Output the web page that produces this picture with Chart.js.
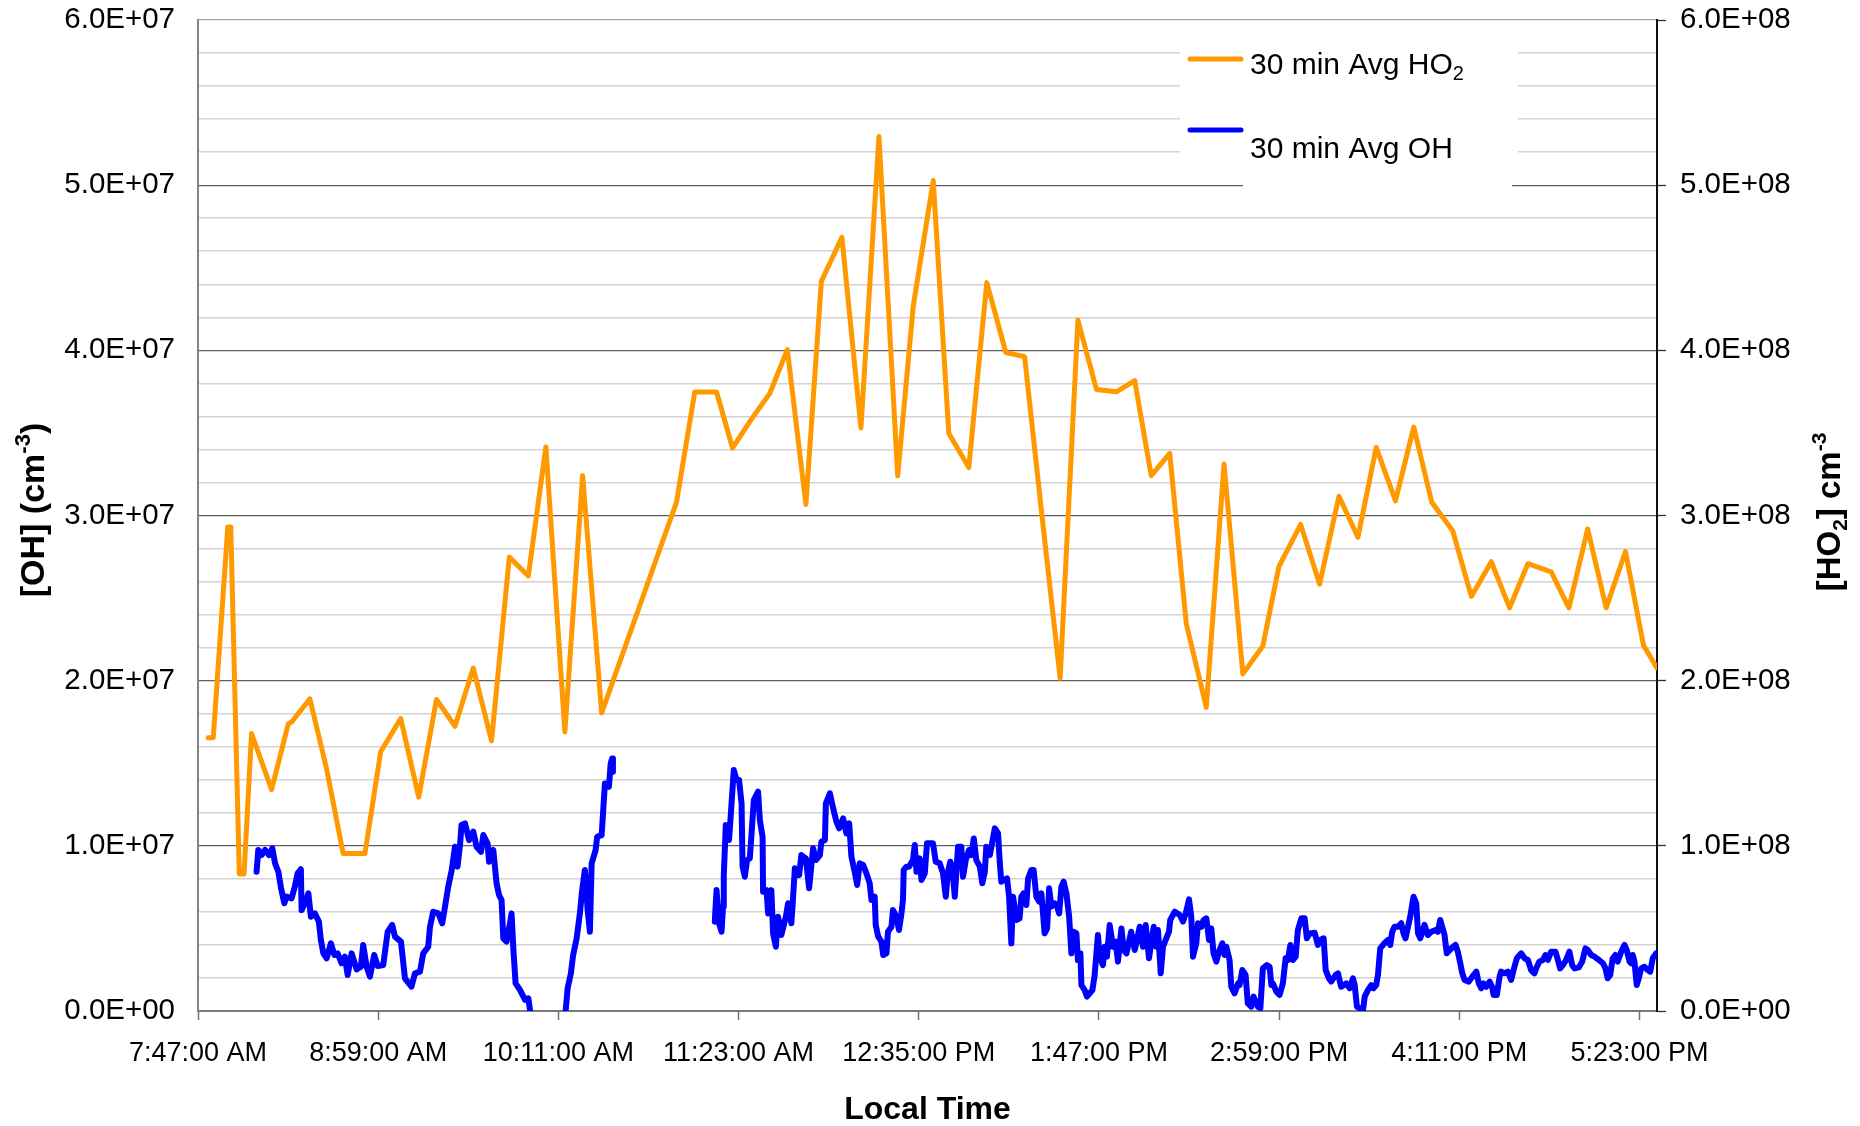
<!DOCTYPE html>
<html><head><meta charset="utf-8">
<script src="https://cdn.jsdelivr.net/npm/chart.js@4.4.1/dist/chart.umd.min.js"></script>
<style>html,body{margin:0;padding:0;background:#fff;}canvas{display:block;}</style>
</head><body>
<canvas id="c" width="1860" height="1126"></canvas>
<script>
// ---- x axis (minutes after midnight) ----
const xTickMinutes = [467, 539, 611, 683, 755, 827, 899, 971, 1043];
const xTickLabels = ['7:47:00 AM', '8:59:00 AM', '10:11:00 AM', '11:23:00 AM', '12:35:00 PM', '1:47:00 PM', '2:59:00 PM', '4:11:00 PM', '5:23:00 PM'];
const xRange = [467, 1050];

// ---- series ----
const seriesLabels = ['30 min Avg HO₂', '30 min Avg OH'];
const axisTitles = { x: 'Local Time', y: '[OH] (cm⁻³)', y2: '[HO₂] cm⁻³' };

const ho2Minutes = [471.1,473.1,478.9,480.1,483.5,485.4,488.4,496.4,503.1,504.4,511.7,518.4,525.0,533.7,540.0,548.0,555.2,562.3,569.7,577.0,584.3,591.4,599.0,606.0,613.6,620.7,628.3,658.2,665.5,674.2,680.6,687.8,695.5,702.5,709.9,716.1,724.3,731.9,739.1,746.6,752.8,760.8,767.0,775.0,782.2,789.8,797.3,804.0,811.5,818.6,826.0,834.0,841.3,847.9,855.3,861.9,869.9,877.0,884.5,892.5,898.9,907.6,915.2,922.9,930.5,937.8,945.5,952.8,960.0,968.4,975.8,983.8,991.1,998.4,1007.7,1014.8,1022.3,1029.7,1037.4,1044.6,1049.9];
const ho2Values = [1.655e8,1.655e8,2.93e8,2.93e8,0.83e8,0.83e8,1.68e8,1.34e8,1.74e8,1.75e8,1.89e8,1.465e8,0.953e8,0.953e8,1.57e8,1.77e8,1.295e8,1.886e8,1.724e8,2.076e8,1.636e8,2.748e8,2.634e8,3.415e8,1.69e8,3.242e8,1.805e8,3.08e8,3.748e8,3.748e8,3.409e8,3.576e8,3.74e8,4.004e8,3.067e8,4.418e8,4.684e8,3.53e8,5.294e8,3.24e8,4.267e8,5.028e8,3.498e8,3.29e8,4.41e8,3.987e8,3.962e8,3.031e8,2.015e8,4.183e8,3.763e8,3.749e8,3.817e8,3.241e8,3.376e8,2.346e8,1.838e8,3.312e8,2.041e8,2.21e8,2.69e8,2.946e8,2.584e8,3.117e8,2.868e8,3.412e8,3.088e8,3.535e8,3.08e8,2.906e8,2.51e8,2.72e8,2.441e8,2.708e8,2.659e8,2.441e8,2.918e8,2.441e8,2.782e8,2.214e8,2.078e8];

const ohMinutes = [490.4,491.1,492.4,493.8,495.4,496.7,497.8,499.1,500.2,501.5,502.4,504.4,505.7,506.8,508.1,508.4,509.7,511.1,512.1,513.7,515.3,516.1,517.1,518.4,520.1,521.5,522.8,524.4,525.7,526.8,528.4,530.4,532.1,533.0,534.4,535.7,537.4,538.8,541.0,542.8,544.6,545.7,548.1,549.7,552.3,553.7,555.7,557.0,559.0,559.7,561.0,563.0,564.6,565.7,567.0,568.4,569.7,570.7,571.7,572.3,573.7,575.3,577.0,578.3,580.1,581.0,582.7,583.3,585.0,586.3,587.3,588.3,589.0,590.3,591.3,592.3,593.0,593.9,595.7,597.7,599.0,599.7,
606,
613.9,614.7,616.0,616.9,618.3,619.6,620.5,621.6,622.7,623.6,624.3,625.9,626.5,628.3,629.6,631.2,631.9,632.5,632.8,
653,
673.5,674.2,675.2,676.2,676.8,677.1,677.9,679.2,679.8,680.6,681.1,682.2,683.2,684.2,684.6,685.5,686.4,687.5,688.2,689.1,690.8,691.5,692.6,692.8,694.2,694.8,696.1,696.8,697.9,698.8,700.1,701.9,702.8,704.1,704.8,705.5,707.2,708.1,709.9,711.2,712.1,712.8,713.9,715.5,716.1,717.5,717.9,719.5,720.5,722.1,723.2,724.8,726.1,727.2,728.1,729.4,730.4,731.4,732.8,734.1,735.4,736.1,737.4,737.8,738.8,740.1,740.8,742.1,742.7,744.1,744.7,746.1,747.1,748.1,748.7,749.0,750.1,751.1,752.7,753.4,754.1,755.4,756.1,757.4,758.3,759.4,760.7,761.8,763.4,764.7,765.8,766.7,767.6,768.4,769.4,770.7,772.0,772.7,773.8,775.1,776.0,777.0,778.0,779.4,780.4,781.4,782.0,783.4,784.4,785.4,786.7,787.4,788.0,790.3,791.1,792.0,792.7,794.0,795.3,796.0,796.9,798.0,798.7,800.0,800.9,802.0,803.1,804.0,805.3,806.3,807.1,808.0,809.3,810.3,811.1,812.0,812.9,814.0,815.1,816.0,816.9,818.0,818.6,819.6,820.0,821.3,822.2,823.3,824.4,825.3,826.6,827.3,828.6,829.3,830.2,831.3,832.6,833.7,834.6,836.0,836.9,838.0,839.0,
839.9,841.3,842.2,843.3,844.6,845.7,847.0,847.9,848.9,849.9,850.6,851.7,852.6,853.9,855.0,855.5,857.3,859.3,860.6,861.7,863.0,863.9,864.6,865.9,866.6,867.9,868.8,869.9,871.0,871.9,872.8,873.9,875.2,876.3,877.2,877.9,879.2,879.9,881.2,882.6,883.2,884.3,885.6,886.5,887.9,888.8,890.5,891.5,892.5,894.1,895.2,895.9,896.5,897.9,899.2,900.5,901.6,902.5,903.5,904.5,905.6,906.5,907.9,909.2,910.1,911.2,913.2,914.5,915.4,916.8,917.6,918.9,919.8,921.6,922.5,923.8,925.8,927.2,928.5,929.2,930.1,931.2,932.5,933.2,934.5,935.8,936.7,937.8,938.5,939.4,941.1,942.5,943.4,944.2,945.1,946.5,947.8,948.7,949.5,950.5,951.4,952.7,953.8,954.5,955.4,957.1,958.4,959.8,961.5,962.4,963.4,
965.1,966.0,967.8,969.5,970.4,971.4,972.2,973.1,974.8,976.2,977.8,978.8,979.8,980.7,981.8,983.1,984.1,984.7,986.0,987.1,987.7,989.1,990.4,991.7,992.7,994.0,995.7,997.1,998.4,999.7,1001.0,1002.0,1003.0,1004.4,1005.4,1006.4,1007.7,1009.4,1010.4,1011.3,1012.4,1013.7,1015.0,1016.1,1017.0,1018.8,1020.1,1021.4,1022.4,1023.7,1025.0,1026.8,1028.4,1029.4,1030.3,1031.3,1032.3,1033.4,1034.3,1035.7,1037.0,1037.9,1039.0,1039.7,1040.3,1041.0,1041.9,1042.7,1043.7,1045.0,1046.3,1047.3,1048.3,1049.7];
const ohValues = [8.43e6,9.75e6,9.44e6,9.75e6,9.44e6,9.85e6,8.94e6,8.43e6,7.43e6,6.52e6,6.92e6,6.82e6,7.53e6,8.33e6,8.58e6,6.11e6,6.52e6,7.12e6,5.71e6,5.91e6,5.41e6,4.30e6,3.49e6,3.19e6,4.10e6,3.39e6,3.49e6,2.89e6,3.29e6,2.18e6,3.49e6,2.52e6,2.68e6,4.00e6,2.68e6,2.08e6,3.39e6,2.72e6,2.78e6,4.80e6,5.21e6,4.50e6,4.20e6,1.98e6,1.47e6,2.28e6,2.38e6,3.49e6,3.89e6,5.10e6,6.01e6,5.91e6,5.31e6,6.32e6,7.53e6,8.54e6,9.95e6,8.74e6,10.05e6,11.26e6,11.36e6,10.35e6,10.86e6,9.95e6,9.64e6,10.65e6,10.15e6,9.04e6,9.75e6,7.73e6,7.02e6,6.72e6,4.40e6,4.20e6,5.00e6,5.91e6,3.79e6,1.67e6,1.27e6,0.67e6,0.77e6,0,
null,
0,1.37e6,2.28e6,3.39e6,4.40e6,5.91e6,7.32e6,8.54e6,6.11e6,4.80e6,8.94e6,9.75e6,10.55e6,10.65e6,13.78e6,13.58e6,14.99e6,15.29e6,14.49e6,
null,
5.41e6,7.32e6,5.31e6,4.80e6,6.32e6,8.23e6,11.26e6,10.35e6,11.66e6,13.48e6,14.59e6,13.98e6,13.98e6,12.57e6,8.74e6,8.13e6,9.14e6,9.24e6,10.75e6,12.77e6,13.28e6,11.56e6,10.55e6,7.22e6,7.32e6,5.91e6,7.32e6,4.70e6,3.89e6,5.71e6,4.60e6,5.71e6,6.52e6,5.31e6,6.92e6,8.64e6,8.23e6,9.44e6,9.24e6,7.43e6,8.84e6,9.85e6,9.14e6,9.44e6,10.25e6,10.35e6,12.57e6,13.18e6,12.47e6,11.46e6,11.06e6,11.66e6,10.75e6,11.36e6,9.34e6,8.43e6,7.63e6,8.94e6,8.84e6,8.33e6,7.73e6,6.72e6,6.92e6,5.21e6,4.50e6,4.20e6,3.39e6,3.49e6,4.80e6,5.10e6,6.11e6,5.71e6,4.90e6,5.91e6,6.72e6,8.54e6,8.74e6,8.74e6,9.14e6,10.05e6,8.43e6,9.24e6,7.93e6,8.33e6,10.15e6,10.15e6,10.15e6,9.04e6,8.94e6,8.33e6,6.92e6,8.43e6,9.04e6,8.74e6,6.92e6,9.95e6,9.95e6,8.13e6,9.14e6,9.75e6,9.44e6,10.45e6,9.14e6,8.74e6,7.73e6,8.43e6,9.95e6,9.44e6,10.25e6,11.06e6,10.75e6,8.94e6,7.83e6,8.03e6,6.92e6,4.10e6,6.92e6,5.51e6,5.61e6,6.92e6,7.12e6,6.42e6,8.03e6,8.54e6,8.54e6,6.92e6,6.62e6,7.12e6,4.70e6,5.00e6,7.43e6,6.32e6,6.52e6,6.32e6,5.91e6,7.53e6,7.83e6,7.12e6,5.71e6,3.49e6,4.80e6,4.70e6,3.09e6,3.49e6,1.57e6,1.27e6,0.87e6,1.07e6,1.27e6,2.18e6,4.60e6,3.29e6,2.78e6,3.89e6,3.29e6,5.21e6,3.89e6,4.20e6,2.99e6,5.00e6,3.69e6,3.49e6,4.20e6,
4.80e6,3.69e6,4.30e6,5.10e6,3.89e6,5.21e6,3.19e6,4.10e6,5.10e6,3.89e6,4.90e6,2.28e6,3.89e6,4.40e6,4.80e6,5.51e6,6.01e6,5.81e6,5.41e6,5.91e6,6.76e6,5.71e6,3.29e6,4.10e6,5.31e6,5.10e6,5.51e6,5.61e6,4.30e6,5.00e6,3.49e6,2.99e6,3.69e6,4.10e6,3.39e6,3.89e6,3.09e6,1.47e6,1.07e6,1.67e6,1.57e6,2.48e6,2.18e6,0.46e6,0.26e6,0.87e6,0.26e6,0.16e6,2.58e6,2.78e6,2.68e6,1.57e6,1.67e6,1.17e6,0.97e6,1.67e6,3.19e6,3.09e6,4.00e6,3.09e6,3.29e6,4.90e6,5.61e6,5.61e6,4.40e6,4.70e6,4.74e6,4.00e6,4.30e6,4.40e6,2.48e6,1.98e6,1.78e6,2.18e6,2.28e6,1.47e6,1.67e6,1.37e6,1.98e6,1.57e6,0.26e6,0.16e6,0,0.87e6,1.27e6,1.57e6,1.37e6,1.57e6,2.18e6,3.79e6,4.10e6,4.30e6,4.00e6,4.80e6,5.10e6,5.10e6,5.31e6,4.70e6,4.40e6,5.10e6,5.71e6,6.92e6,6.52e6,4.70e6,4.40e6,5.21e6,4.60e6,4.80e6,4.90e6,4.80e6,5.51e6,
4.60e6,3.49e6,3.79e6,4.00e6,3.59e6,2.89e6,2.28e6,1.88e6,1.78e6,2.08e6,2.38e6,1.67e6,1.37e6,1.67e6,1.47e6,1.78e6,1.47e6,0.97e6,0.97e6,2.08e6,2.38e6,2.28e6,2.38e6,1.88e6,2.48e6,3.19e6,3.49e6,3.19e6,3.09e6,2.48e6,2.28e6,2.68e6,2.99e6,3.09e6,3.39e6,3.09e6,3.59e6,3.59e6,3.09e6,2.58e6,2.78e6,3.09e6,3.59e6,2.78e6,2.58e6,2.64e6,2.99e6,3.79e6,3.69e6,3.39e6,3.29e6,3.09e6,2.89e6,2.58e6,1.98e6,2.18e6,3.19e6,3.39e6,2.99e6,3.59e6,4.00e6,3.69e6,2.99e6,2.89e6,3.39e6,2.99e6,1.57e6,1.98e6,2.58e6,2.68e6,2.48e6,2.38e6,3.19e6,3.49e6];

// ---- styling ----
const FONT = '"Liberation Sans", Arial, Helvetica, sans-serif';
const ORANGE = '#FF9900', BLUE = '#0000FF';

function sci(v) {
  if (Math.abs(v) < 1e-9) return '0.0E+00';
  const [m, e] = v.toExponential(1).split('e');
  const n = parseInt(e, 10);
  return m + 'E' + (n < 0 ? '-' : '+') + String(Math.abs(n)).padStart(2, '0');
}
const isMajor = (v, unit) => Math.abs(v / unit - Math.round(v / unit)) < 1e-6;

// rich text: ₂ -> subscript, ⁻³ -> superscript
const SUBS = { '₂': '2' }, SUPS = { '⁻': '-', '³': '3' };
function toParts(str) {
  const parts = [];
  for (const ch of str) {
    const kind = SUBS[ch] ? 'sub' : SUPS[ch] ? 'sup' : 'n';
    const t = SUBS[ch] || SUPS[ch] || ch;
    const last = parts[parts.length - 1];
    if (last && last.kind === kind) last.t += t; else parts.push({ kind, t });
  }
  return parts;
}
function drawRich(ctx, str, x, y, size, weight, align) {
  const parts = toParts(str);
  const fontOf = p => `${weight} ${p.kind === 'n' ? size : Math.round(size * 0.65)}px ${FONT}`;
  let total = 0;
  parts.forEach(p => { ctx.font = fontOf(p); p.w = ctx.measureText(p.t).width; total += p.w; });
  let cx = align === 'center' ? x - total / 2 : x;
  ctx.textAlign = 'left'; ctx.textBaseline = 'alphabetic';
  parts.forEach(p => {
    ctx.font = fontOf(p);
    const dy = p.kind === 'sub' ? size * 0.2 : p.kind === 'sup' ? -size * 0.42 : 0;
    ctx.fillText(p.t, cx, y + dy);
    cx += p.w;
  });
}

const decor = {
  id: 'decor',
  afterDraw(chart) {
    const ctx = chart.ctx, a = chart.chartArea;
    const midX = (a.left + a.right) / 2;
    ctx.save();
    ctx.fillStyle = '#000';
    // axis titles
    drawRich(ctx, axisTitles.x, midX, 1119, 32, 'bold', 'center');
    ctx.save(); ctx.translate(44, 510); ctx.rotate(-Math.PI / 2);
    drawRich(ctx, axisTitles.y, 0, 0, 34, 'bold', 'center'); ctx.restore();
    ctx.save(); ctx.translate(1840, 512); ctx.rotate(-Math.PI / 2);
    drawRich(ctx, axisTitles.y2, 0, 0, 33, 'bold', 'center'); ctx.restore();
    // legend box
    ctx.fillStyle = '#fff';
    ctx.fillRect(1180, a.top + 1, 338, 163);
    ctx.fillRect(1243, a.top + 160, 269, 8);
    const items = chart.data.datasets.map(d => ({ label: d.label, color: d.borderColor }));
    const lineY = [59, 130], textY = [73.5, 157.5];
    items.forEach((it, i) => {
      ctx.strokeStyle = it.color; ctx.lineWidth = 5; ctx.lineCap = 'round';
      ctx.beginPath(); ctx.moveTo(1190, lineY[i]); ctx.lineTo(1241, lineY[i]); ctx.stroke();
      ctx.fillStyle = '#000';
      drawRich(ctx, it.label, 1250, textY[i], 30, 'normal', 'left');
    });
    ctx.restore();
  }
};

const ho2Data = ho2Minutes.map((m, i) => ({ x: m, y: ho2Values[i] }));
const ohData = ohMinutes.map((m, i) => ({ x: m, y: ohValues[i] }));

new Chart(document.getElementById('c'), {
  type: 'line',
  data: {
    datasets: [
      { label: seriesLabels[0], data: ho2Data, yAxisID: 'y2', borderColor: ORANGE, backgroundColor: ORANGE,
        borderWidth: 5, pointRadius: 0, tension: 0, spanGaps: false, borderJoinStyle: 'round', borderCapStyle: 'round' },
      { label: seriesLabels[1], data: ohData, yAxisID: 'y', borderColor: BLUE, backgroundColor: BLUE,
        borderWidth: 6, pointRadius: 0, tension: 0, spanGaps: false, borderJoinStyle: 'round', borderCapStyle: 'round' }
    ]
  },
  options: {
    responsive: false, animation: false, devicePixelRatio: 1,
    layout: { padding: { top: 20, left: 0, right: 0, bottom: 0 } },
    plugins: { legend: { display: false }, tooltip: { enabled: false }, title: { display: false } },
    scales: {
      x: {
        type: 'linear', position: 'bottom', min: xRange[0], max: xRange[1],
        afterBuildTicks: s => { s.ticks = xTickMinutes.map(v => ({ value: v })); },
        afterFit: s => { s.height = 115; },
        grid: { drawOnChartArea: false, drawTicks: true, tickLength: 9, tickColor: '#707070', tickWidth: 1.5 },
        border: { color: '#7a7a7a', width: 2 },
        ticks: { autoSkip: false, maxRotation: 0, minRotation: 0, padding: 17, color: '#000',
                 font: { family: FONT, size: 27 }, callback: (v, i) => xTickLabels[i] }
      },
      y: {
        position: 'left', min: 0, max: 6e7,
        afterFit: s => { s.width = 198; s.paddingTop = 0; s.paddingBottom = 0; },
        ticks: { stepSize: 2e6, autoSkip: false, padding: 23, color: '#000', font: { family: FONT, size: 29.5 },
                 callback: v => isMajor(v, 1e7) ? sci(v) : '' },
        grid: {
          drawTicks: false,
          color: c => { const v = c.tick.value; if (Math.abs(v - 6e7) < 1) return '#a8a8a8'; return isMajor(v, 1e7) ? '#5f5f5f' : '#d3d3d3'; },
          lineWidth: c => isMajor(c.tick.value, 1e7) ? 1.3 : 1.5
        },
        border: { color: '#858585', width: 2 }
      },
      y2: {
        position: 'right', min: 0, max: 6e8,
        afterFit: s => { s.width = 203; s.paddingTop = 0; s.paddingBottom = 0; },
        ticks: { stepSize: 2e7, autoSkip: false, padding: 14, color: '#000', font: { family: FONT, size: 29.5 },
                 callback: v => isMajor(v, 1e8) ? sci(v) : '' },
        grid: { drawOnChartArea: false, drawTicks: true, tickLength: 9, tickWidth: 1.3,
                tickColor: c => isMajor(c.tick.value, 1e8) ? '#333' : 'rgba(0,0,0,0)' },
        border: { color: '#111', width: 2 }
      }
    }
  },
  plugins: [decor]
});
</script>
</body></html>
